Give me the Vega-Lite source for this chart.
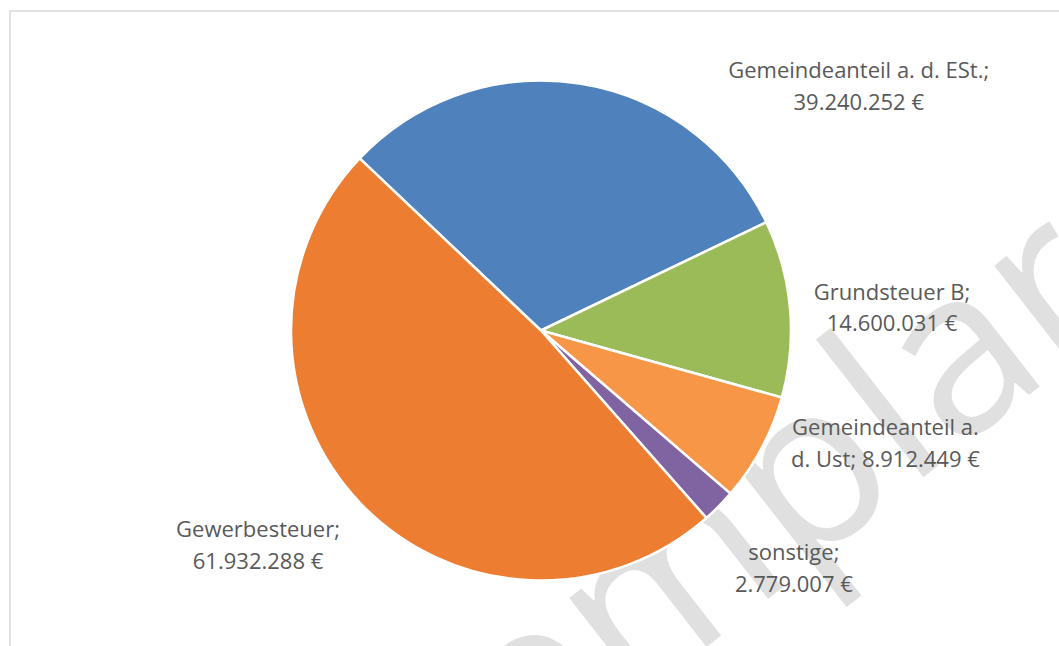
{
  "$schema": "https://vega.github.io/schema/vega-lite/v6.json",
  "width": 1062,
  "height": 639,
  "autosize": "none",
  "padding": {"left": 10, "top": 11, "right": 0, "bottom": 0},
  "background": "white",
  "view": {"stroke": "#d9d9d9", "strokeWidth": 1.5},
  "datasets": {
    "steuern": [
      {"nr": 1, "kategorie": "Gemeindeanteil a. d. ESt.", "betrag": 39240252, "beschriftung": "Gemeindeanteil a. d. ESt.;\n39.240.252 €"},
      {"nr": 2, "kategorie": "Grundsteuer B", "betrag": 14600031, "beschriftung": "Grundsteuer B;\n14.600.031 €"},
      {"nr": 3, "kategorie": "Gemeindeanteil a. d. Ust", "betrag": 8912449, "beschriftung": "Gemeindeanteil a.\nd. Ust; 8.912.449 €"},
      {"nr": 4, "kategorie": "sonstige", "betrag": 2779007, "beschriftung": "sonstige;\n2.779.007 €"},
      {"nr": 5, "kategorie": "Gewerbesteuer", "betrag": 61932288, "beschriftung": "Gewerbesteuer;\n61.932.288 €"}
    ],
    "wasserzeichen": [
      {"text": "Exemplar"}
    ]
  },
  "layer": [
    {
      "data": {"name": "wasserzeichen"},
      "mark": {"type": "text", "angle": -38, "align": "center", "baseline": "alphabetic", "fontSize": 230, "font": "Open Sans", "color": "#e0e0e0", "dx": -34, "dy": 351},
      "encoding": {"text": {"field": "text", "type": "nominal"}}
    },
    {
      "data": {"name": "steuern"},
      "encoding": {
        "theta": {"field": "betrag", "type": "quantitative", "stack": true, "scale": {"range": [-0.8116, 5.4716]}},
        "order": {"field": "nr", "type": "quantitative", "sort": "ascending"}
      },
      "layer": [
        {
          "mark": {"type": "arc", "outerRadius": 250, "stroke": "white", "strokeWidth": 2.5},
          "encoding": {
            "color": {
              "field": "kategorie",
              "type": "nominal",
              "legend": null,
              "scale": {
                "domain": ["Gemeindeanteil a. d. ESt.", "Grundsteuer B", "Gemeindeanteil a. d. Ust", "sonstige", "Gewerbesteuer"],
                "range": ["#4F81BD", "#9BBB59", "#F79646", "#8064A2", "#ED7D31"]
              }
            }
          }
        },
        {
          "mark": {"type": "text", "radius": 250, "dx": 279, "dy": -12.5, "align": "center", "baseline": "middle", "fontSize": 22, "font": "Open Sans", "color": "#595959", "lineBreak": "\n", "lineHeight": 31.5},
          "encoding": {"text": {"condition": {"test": "datum.nr === 1", "field": "beschriftung", "type": "nominal"}, "value": ""}}
        },
        {
          "mark": {"type": "text", "radius": 250, "dx": 102, "dy": -15.5, "align": "center", "baseline": "middle", "fontSize": 22, "font": "Open Sans", "color": "#595959", "lineBreak": "\n", "lineHeight": 31.5},
          "encoding": {"text": {"condition": {"test": "datum.nr === 2", "field": "beschriftung", "type": "nominal"}, "value": ""}}
        },
        {
          "mark": {"type": "text", "radius": 250, "dx": 124, "dy": -20, "align": "center", "baseline": "middle", "fontSize": 22, "font": "Open Sans", "color": "#595959", "lineBreak": "\n", "lineHeight": 31.5},
          "encoding": {"text": {"condition": {"test": "datum.nr === 3", "field": "beschriftung", "type": "nominal"}, "value": ""}}
        },
        {
          "mark": {"type": "text", "radius": 250, "dx": 75, "dy": 47, "align": "center", "baseline": "middle", "fontSize": 22, "font": "Open Sans", "color": "#595959", "lineBreak": "\n", "lineHeight": 31.5},
          "encoding": {"text": {"condition": {"test": "datum.nr === 4", "field": "beschriftung", "type": "nominal"}, "value": ""}}
        },
        {
          "mark": {"type": "text", "radius": 250, "dx": -103, "dy": 26, "align": "center", "baseline": "middle", "fontSize": 22, "font": "Open Sans", "color": "#595959", "lineBreak": "\n", "lineHeight": 31.5},
          "encoding": {"text": {"condition": {"test": "datum.nr === 5", "field": "beschriftung", "type": "nominal"}, "value": ""}}
        }
      ]
    }
  ]
}
